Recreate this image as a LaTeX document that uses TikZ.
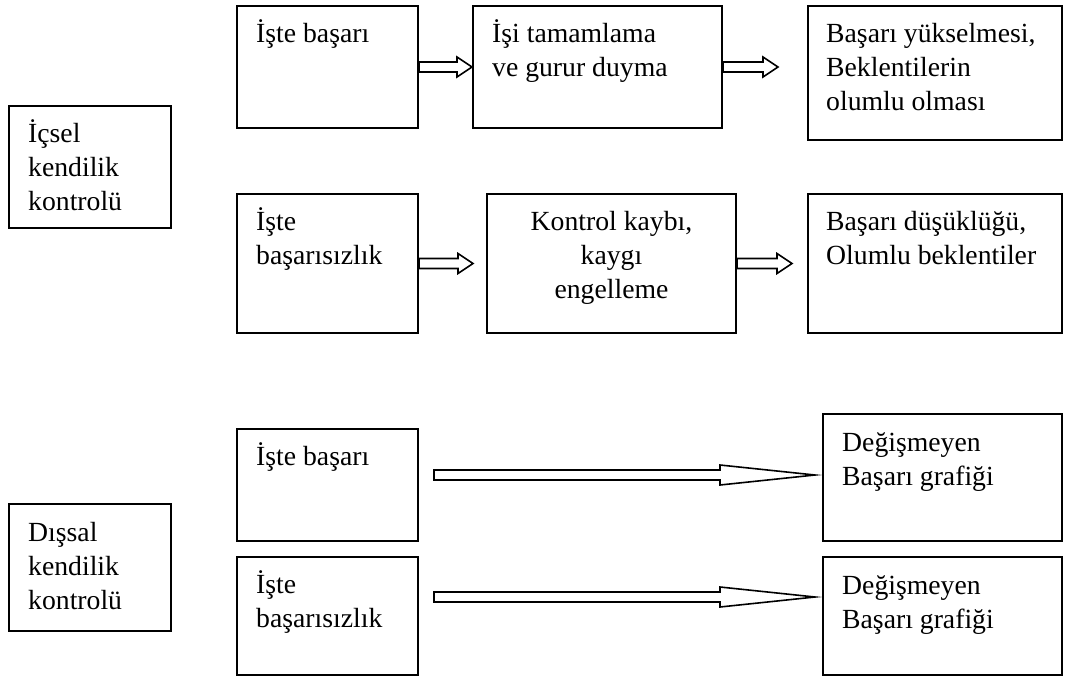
\documentclass[tikz,border=0pt]{standalone}
\usepackage{fontspec}
\setmainfont{Liberation Serif}
\usetikzlibrary{calc}
\tikzset{
  box/.style={draw, line width=2pt, inner sep=0pt, rectangle},
  txt/.style={inner sep=0pt, font=\fontsize{27.7}{34}\selectfont},
  barrow/.style={draw, line width=1.6pt, fill=white, line join=miter},
}
\newcommand\mkbox[5]{%
  \node[box, minimum width={(#4-#2)*1pt}, minimum height={(#5-#3)*1pt}] (#1) at ({(#2+#4)/2},{(#3+#5)/2}) {};}
\newcommand\blockarrow[3]{%
  \draw[barrow] let \p1=(#1), \p2=(#2) in
    (\x1,\y1+5pt) -- (\x2-#3pt,\y1+5pt) -- (\x2-#3pt,\y1+10pt) -- (\x2,\y1)
    -- (\x2-#3pt,\y1-10pt) -- (\x2-#3pt,\y1-5pt) -- (\x1,\y1-5pt) -- cycle;}
\begin{document}
\begin{tikzpicture}[x=1pt,y=-1pt]
\useasboundingbox (0,0) rectangle (1091,677);
% boxes
\mkbox{ic}{9}{106}{171}{228}
\mkbox{dis}{9}{504}{171}{631}
\mkbox{b1}{237}{6}{418}{128}
\mkbox{b2}{473}{6}{722}{128}
\mkbox{b3}{808}{6}{1062}{140}
\mkbox{f1}{237}{194}{418}{333}
\mkbox{f2}{487}{194}{736}{333}
\mkbox{f3}{808}{194}{1062}{333}
\mkbox{e1}{237}{429}{418}{541}
\mkbox{e2}{237}{557}{418}{675}
\mkbox{e3}{823}{414}{1062}{541}
\mkbox{e4}{823}{557}{1062}{675}
% texts (anchor = baseline of the last line)
\node[txt, anchor=base west, align=left] (ic-t) at ([shift={(20,105)}]ic.north west) {İçsel\\kendilik\\kontrolü};
\node[txt, anchor=base west, align=left] (dis-t) at ([shift={(20,106)}]dis.north west) {Dışsal\\kendilik\\kontrolü};
\node[txt, anchor=base west, align=left] (b1-t) at ([shift={(20,37)}]b1.north west) {İşte başarı};
\node[txt, anchor=base west, align=left] (b2-t) at ([shift={(20,71)}]b2.north west) {İşi tamamlama\\ve gurur duyma};
\node[txt, anchor=base west, align=left] (b3-t) at ([shift={(19,105)}]b3.north west) {Başarı yükselmesi,\\Beklentilerin\\olumlu olması};
\node[txt, anchor=base west, align=left] (f1-t) at ([shift={(20,71)}]f1.north west) {İşte\\başarısızlık};
\node[txt, anchor=base, align=center] (f2-t) at ([shift={(0,105)}]f2.north) {Kontrol kaybı,\\kaygı\\engelleme};
\node[txt, anchor=base west, align=left] (f3-t) at ([shift={(19,71)}]f3.north west) {Başarı düşüklüğü,\\Olumlu beklentiler};
\node[txt, anchor=base west, align=left] (e1-t) at ([shift={(20,37)}]e1.north west) {İşte başarı};
\node[txt, anchor=base west, align=left] (e2-t) at ([shift={(20,71)}]e2.north west) {İşte\\başarısızlık};
\node[txt, anchor=base west, align=left] (e3-t) at ([shift={(20,72)}]e3.north west) {Değişmeyen\\Başarı grafiği};
\node[txt, anchor=base west, align=left] (e4-t) at ([shift={(20,72)}]e4.north west) {Değişmeyen\\Başarı grafiği};
% arrow end points
\coordinate (a1s) at (b1.east);
\coordinate (a1e) at (b2.west);
\coordinate (a2s) at (f1.east);
\coordinate (a2e) at ($(f2.west)+(-13,0)$);
\coordinate (a3s) at (b2.east);
\coordinate (a3e) at ($(b2.east -| b3.west)+(-29,0)$);
\coordinate (a4s) at (f2.east);
\coordinate (a4e) at ($(f3.west)+(-15,0)$);
\coordinate (a5s) at ($(e1.east)+(15,-10)$);
\coordinate (a5e) at ($(e1.east -| e3.west)+(-7,-10)$);
\coordinate (a6s) at ($(e2.east)+(15,-19)$);
\coordinate (a6e) at ($(e2.east -| e4.west)+(-7,-19)$);
% arrows
\blockarrow{a1s}{a1e}{15}
\blockarrow{a2s}{a2e}{15}
\blockarrow{a3s}{a3e}{15}
\blockarrow{a4s}{a4e}{15}
\blockarrow{a5s}{a5e}{95}
\blockarrow{a6s}{a6e}{95}
\end{tikzpicture}
\end{document}
